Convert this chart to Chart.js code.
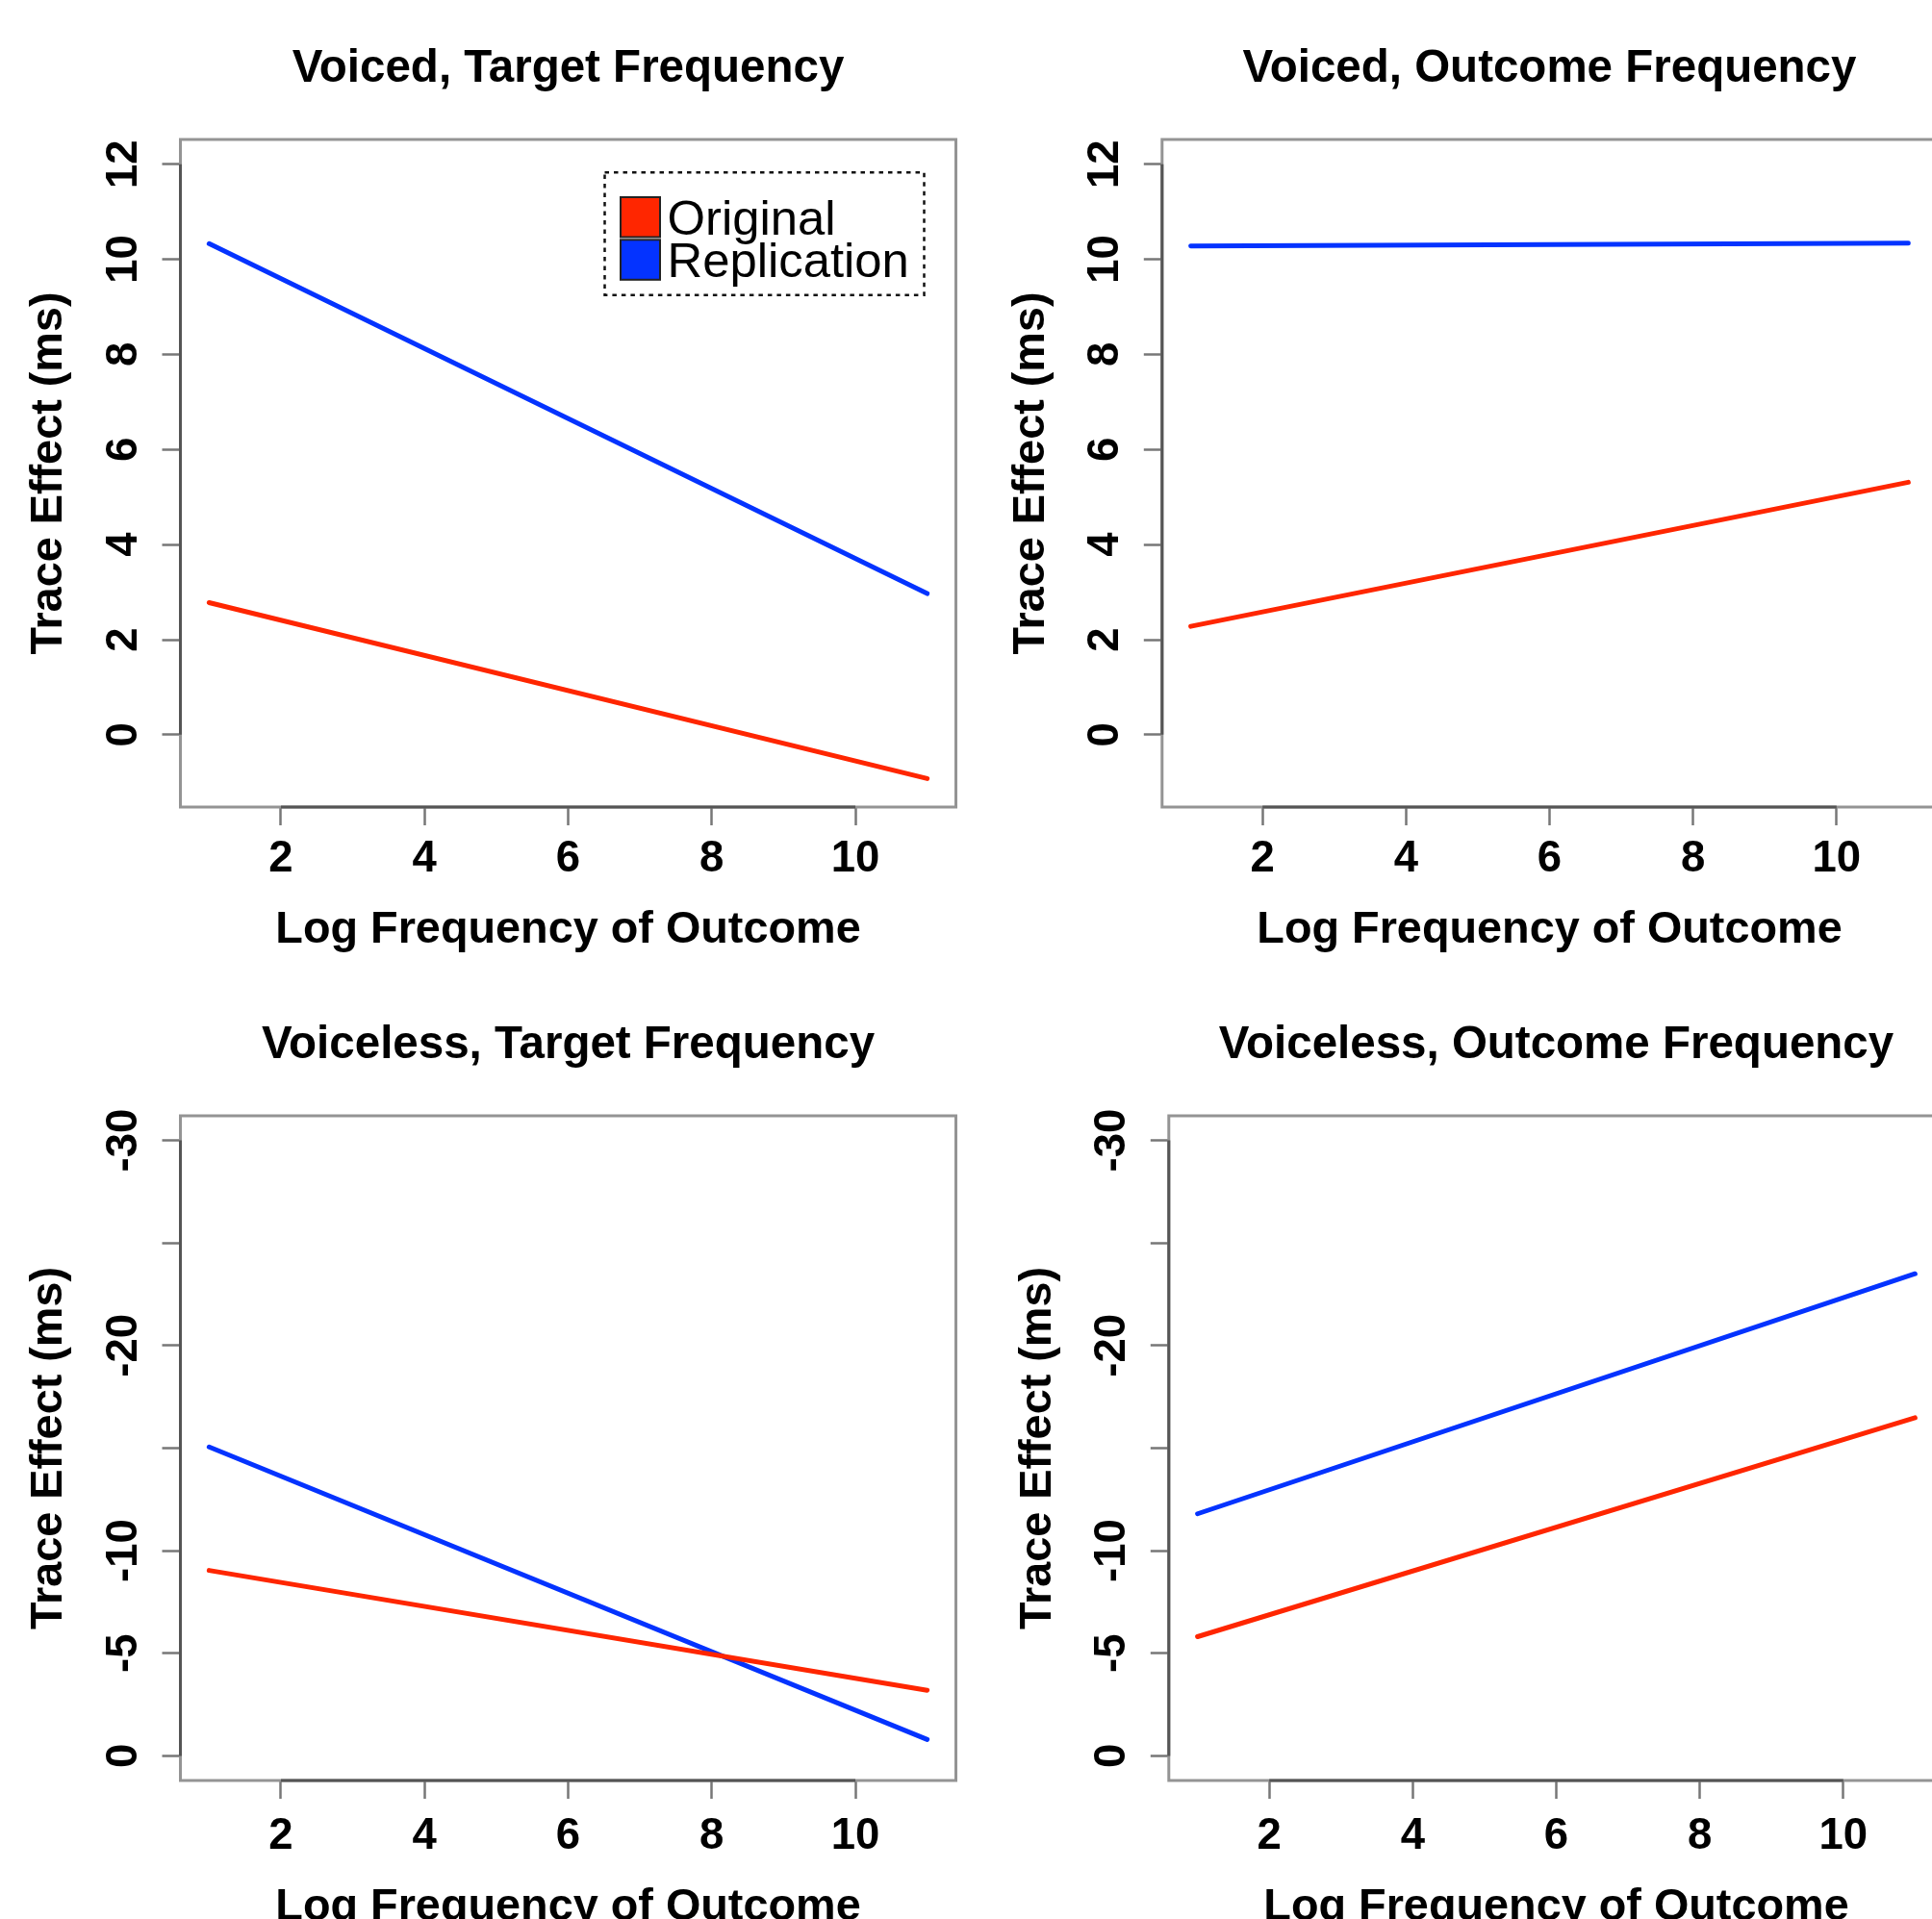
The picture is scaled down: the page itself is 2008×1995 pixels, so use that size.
<!DOCTYPE html>
<html>
<head>
<meta charset="utf-8">
<script src="https://cdn.jsdelivr.net/npm/chart.js@4.4.1/dist/chart.umd.min.js"></script>
<style>
html, body { margin: 0; padding: 0; background: #fff; overflow: hidden; width: 2008px; height: 1995px; }
canvas { position: absolute; }
</style>
</head>
<body>
<canvas id="voicedTarget"></canvas>
<canvas id="voicedOutcome"></canvas>
<canvas id="voicelessTarget"></canvas>
<canvas id="voicelessOutcome"></canvas>
<script>
// data
const xEnds = [1, 11];
const xTicks = [2, 4, 6, 8, 10];
const voicedTicks = [0, 2, 4, 6, 8, 10, 12];
const voicelessTicks = [0, -5, -10, -15, -20, -25, -30];
const voicelessTickLabels = ['0', '-5', '-10', '', '-20', '', '-30'];

const voicedTargetOriginal = [2.78, -0.92];
const voicedTargetReplication = [10.33, 2.97];
const voicedOutcomeOriginal = [2.28, 5.31];
const voicedOutcomeReplication = [10.28, 10.34];
const voicelessTargetOriginal = [-9.04, -3.20];
const voicelessTargetReplication = [-15.06, -0.80];
const voicelessOutcomeOriginal = [-5.81, -16.48];
const voicelessOutcomeReplication = [-11.80, -23.50];

const seriesNames = ['Original', 'Replication'];
const seriesColors = ['#ff2600', '#0433ff'];

const FONT = '"Liberation Sans", Arial, Helvetica, sans-serif';
const YW = 187.5;   // width reserved left of plot box
const XH = 161;     // height reserved under plot box

// R style: axis range padded by 4%
function pad4(lo, hi) {
    const d = (hi - lo) * 0.04;
    return [lo - d, hi + d];
}

const panels = [
    { id: 'voicedTarget', title: 'Voiced, Target Frequency',
      orig: voicedTargetOriginal, repl: voicedTargetReplication,
      ylim: [-1, 12], ticks: voicedTicks, labels: null, reverse: false, legend: true,
      cx: 0, cy: 0, w: 1004, box: [187.5, 145, 993.5, 839], tickPad: 8.5, titlePad: 4.5 },
    { id: 'voicedOutcome', title: 'Voiced, Outcome Frequency',
      orig: voicedOutcomeOriginal, repl: voicedOutcomeReplication,
      ylim: [-1, 12], ticks: voicedTicks, labels: null, reverse: false, legend: false,
      cx: 1004, cy: 0, w: 1040, box: [1207.8, 145, 2013.2, 839], tickPad: 8.5, titlePad: 4.5 },
    { id: 'voicelessTarget', title: 'Voiceless, Target Frequency',
      orig: voicelessTargetOriginal, repl: voicelessTargetReplication,
      ylim: [-30, 0], ticks: voicelessTicks, labels: voicelessTickLabels, reverse: true, legend: false,
      cx: 0, cy: 1000, w: 1004, box: [187.5, 1160, 993.5, 1851], tickPad: 12, titlePad: 0.5 },
    { id: 'voicelessOutcome', title: 'Voiceless, Outcome Frequency',
      orig: voicelessOutcomeOriginal, repl: voicelessOutcomeReplication,
      ylim: [-30, 0], ticks: voicelessTicks, labels: voicelessTickLabels, reverse: true, legend: false,
      cx: 1004, cy: 1000, w: 1040, box: [1214.8, 1160, 2020.2, 1851], tickPad: 12, titlePad: 0.5 }
];

function rPlugin(p) {
    return {
        id: 'rStyle',
        afterDraw(chart) {
            const ctx = chart.ctx;
            const a = chart.chartArea;
            const xs = chart.scales.x;
            const ys = chart.scales.y;
            ctx.save();

            // plot box
            ctx.strokeStyle = '#949494';
            ctx.lineWidth = 3;
            ctx.strokeRect(a.left, a.top, a.right - a.left, a.bottom - a.top);

            // axis lines from first to last tick
            ctx.strokeStyle = '#555';
            ctx.beginPath();
            ctx.moveTo(a.left, ys.getPixelForValue(p.ticks[0]));
            ctx.lineTo(a.left, ys.getPixelForValue(p.ticks[p.ticks.length - 1]));
            ctx.moveTo(xs.getPixelForValue(xTicks[0]), a.bottom);
            ctx.lineTo(xs.getPixelForValue(xTicks[xTicks.length - 1]), a.bottom);
            ctx.stroke();

            // rotated y tick labels
            ctx.fillStyle = '#000';
            ctx.font = 'bold 45.5px ' + FONT;
            ctx.textAlign = 'center';
            ctx.textBaseline = 'alphabetic';
            p.ticks.forEach((v, i) => {
                const txt = p.labels ? p.labels[i] : String(v);
                if (!txt) return;
                ctx.save();
                ctx.translate(a.left - 45.5, ys.getPixelForValue(v));
                ctx.rotate(-Math.PI / 2);
                ctx.fillText(txt, 0, 0);
                ctx.restore();
            });

            // panel title
            ctx.font = 'bold 47.5px ' + FONT;
            ctx.fillText(p.title, (a.left + a.right) / 2, a.top - 60);

            // legend
            if (p.legend) {
                const lx = a.right - 365;
                const ly = a.top + 34.3;
                ctx.setLineDash([4.5, 5]);
                ctx.strokeStyle = '#111';
                ctx.lineWidth = 2.5;
                ctx.strokeRect(lx, ly, 332, 127.4);
                ctx.setLineDash([]);
                chart.data.datasets.forEach((ds, i) => {
                    const sy = a.top + 60 + i * 44.3;
                    ctx.fillStyle = ds.borderColor;
                    ctx.fillRect(lx + 16.5, sy, 41, 41.5);
                    ctx.strokeStyle = '#222';
                    ctx.lineWidth = 2;
                    ctx.strokeRect(lx + 16.5, sy, 41, 41.5);
                    ctx.fillStyle = '#000';
                    ctx.font = '50.8px ' + FONT;
                    ctx.textAlign = 'left';
                    ctx.fillText(ds.label, lx + 65, a.top + 99 + i * 43.7);
                });
            }
            ctx.restore();
        }
    };
}

panels.forEach(p => {
    const [L, T, R, B] = p.box;
    const cv = document.getElementById(p.id);
    const h = B - p.cy + XH;
    cv.width = p.w;
    cv.height = h;
    cv.style.left = p.cx + 'px';
    cv.style.top = p.cy + 'px';
    const xr = pad4(xEnds[0], xEnds[1]);
    const yr = pad4(p.ylim[0], p.ylim[1]);

    new Chart(cv, {
        type: 'line',
        data: {
            datasets: [
                {
                    label: seriesNames[0],
                    data: xEnds.map((x, i) => ({ x: x, y: p.orig[i] })),
                    borderColor: seriesColors[0],
                    backgroundColor: seriesColors[0]
                },
                {
                    label: seriesNames[1],
                    data: xEnds.map((x, i) => ({ x: x, y: p.repl[i] })),
                    borderColor: seriesColors[1],
                    backgroundColor: seriesColors[1]
                }
            ]
        },
        options: {
            responsive: false,
            animation: false,
            events: [],
            layout: {
                padding: { left: L - p.cx - YW, top: T - p.cy, right: p.cx + p.w - R, bottom: 0 }
            },
            elements: {
                point: { radius: 0 },
                line: { borderWidth: 5, tension: 0, borderCapStyle: 'round' }
            },
            plugins: {
                legend: { display: false },
                tooltip: { enabled: false }
            },
            scales: {
                x: {
                    type: 'linear',
                    min: xr[0],
                    max: xr[1],
                    bounds: 'data',
                    afterBuildTicks: s => { s.ticks = xTicks.map(v => ({ value: v })); },
                    afterFit: s => { s.height = XH; },
                    grid: { drawOnChartArea: false, drawTicks: true, tickLength: 19, tickColor: '#777', tickWidth: 2.5 },
                    border: { display: false },
                    ticks: {
                        padding: p.tickPad,
                        color: '#000',
                        maxRotation: 0,
                        autoSkip: false,
                        font: { family: FONT, size: 45.5, weight: 'bold' },
                        callback: v => String(v)
                    },
                    title: {
                        display: true,
                        text: 'Log Frequency of Outcome',
                        color: '#000',
                        font: { family: FONT, size: 46.8, weight: 'bold' },
                        padding: { top: 0, bottom: p.titlePad }
                    }
                },
                y: {
                    type: 'linear',
                    min: yr[0],
                    max: yr[1],
                    reverse: p.reverse,
                    bounds: 'data',
                    afterBuildTicks: s => { s.ticks = p.ticks.map(v => ({ value: v })); },
                    afterFit: s => { s.width = YW; },
                    grid: { drawOnChartArea: false, drawTicks: true, tickLength: 19, tickColor: '#777', tickWidth: 2.5 },
                    border: { display: false },
                    ticks: { display: false },
                    title: {
                        display: true,
                        text: 'Trace Effect (ms)',
                        color: '#000',
                        font: { family: FONT, size: 46.8, weight: 'bold' },
                        padding: { top: 23.5, bottom: 0 }
                    }
                }
            }
        },
        plugins: [rPlugin(p)]
    });
});
</script>
</body>
</html>
